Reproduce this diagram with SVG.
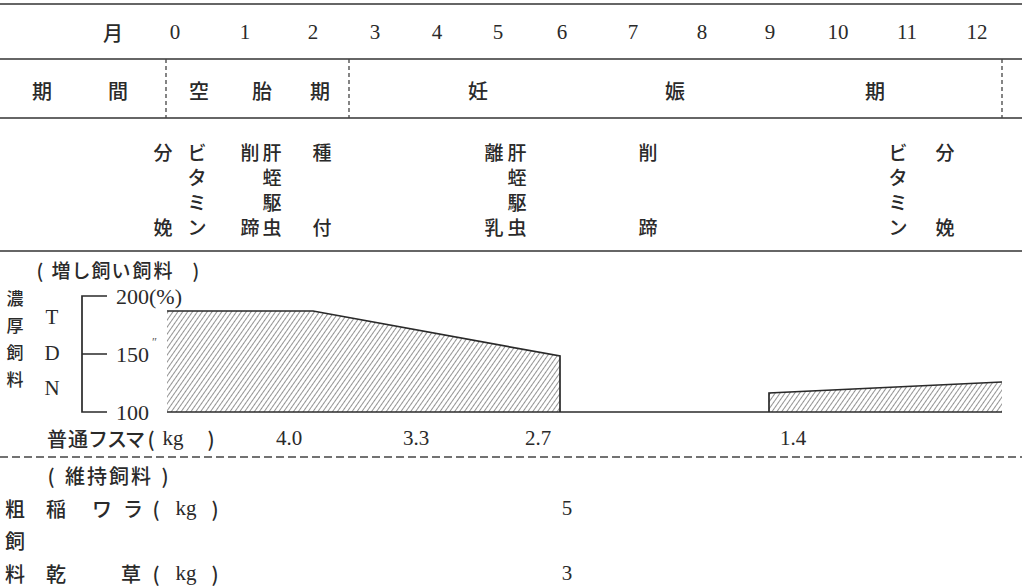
<svg xmlns="http://www.w3.org/2000/svg" width="1022" height="588" viewBox="0 0 1022 588">
<defs>
<style>
.j{font-family:"Noto Sans CJK JP","Noto Sans",sans-serif;font-size:20px;font-weight:500;fill:#2a2a2a;text-anchor:middle;dominant-baseline:central}
.e{font-size:19px}
.v{font-size:17px}
.s{font-family:"Liberation Serif",serif;font-size:21px;fill:#2a2a2a;text-anchor:middle;dominant-baseline:central}
.a{font-family:"Liberation Serif",serif;font-size:22px;fill:#2a2a2a;text-anchor:start;dominant-baseline:central}
.ln{stroke:#333;stroke-width:1.6;fill:none}
.dv{stroke:#444;stroke-width:1.3;stroke-dasharray:4 3;fill:none}
.ol{stroke:#2a2a2a;stroke-width:1.7;fill:none}
</style>
<pattern id="hatch" patternUnits="userSpaceOnUse" width="4" height="5" patternTransform="rotate(35)">
<line x1="0" y1="0" x2="0" y2="5" stroke="#3a3a3a" stroke-width="1.1"/>
</pattern>
</defs>
<rect width="1022" height="588" fill="#fff"/>

<g id="table-lines">
<line class="ln" x1="0" y1="4" x2="1022" y2="4" stroke-width="2"/>
<line class="ln" x1="0" y1="59" x2="1022" y2="59"/>
<line class="ln" x1="0" y1="118" x2="1022" y2="118"/>
<line class="ln" x1="0" y1="251" x2="1022" y2="251" stroke-width="2"/>
<line class="dv" x1="166" y1="59" x2="166" y2="118"/>
<line class="dv" x1="349" y1="59" x2="349" y2="118"/>
<line class="dv" x1="1002" y1="59" x2="1002" y2="118"/>
<line x1="0" y1="457" x2="1022" y2="457" stroke="#444" stroke-width="1.5" stroke-dasharray="8 4"/>
</g>

<g id="months">
<text class="j" x="113" y="32">月</text>
<text class="s" x="175" y="32">0</text>
<text class="s" x="245" y="32">1</text>
<text class="s" x="313" y="32">2</text>
<text class="s" x="375" y="32">3</text>
<text class="s" x="437" y="32">4</text>
<text class="s" x="498" y="32">5</text>
<text class="s" x="562" y="32">6</text>
<text class="s" x="633" y="32">7</text>
<text class="s" x="702" y="32">8</text>
<text class="s" x="770" y="32">9</text>
<text class="s" x="838" y="32">10</text>
<text class="s" x="907" y="32">11</text>
<text class="s" x="977" y="32">12</text>
</g>

<g id="periods">
<text class="j" x="42" y="90">期</text>
<text class="j" x="118" y="90">間</text>
<text class="j" x="199" y="90">空</text>
<text class="j" x="262" y="90">胎</text>
<text class="j" x="320" y="90">期</text>
<text class="j" x="478" y="90">妊</text>
<text class="j" x="675" y="90">娠</text>
<text class="j" x="875" y="90">期</text>
</g>

<g id="events">
<text class="j e" x="163" y="151">分</text>
<text class="j e" x="163" y="226">娩</text>
<text class="j e" x="197" y="151">ビ</text>
<text class="j e" x="197" y="176">タ</text>
<text class="j e" x="197" y="201">ミ</text>
<text class="j e" x="197" y="226">ン</text>
<text class="j e" x="250" y="151">削</text>
<text class="j e" x="250" y="226">蹄</text>
<text class="j e" x="272" y="151">肝</text>
<text class="j e" x="272" y="176">蛭</text>
<text class="j e" x="272" y="201">駆</text>
<text class="j e" x="272" y="226">虫</text>
<text class="j e" x="322" y="151">種</text>
<text class="j e" x="322" y="226">付</text>
<text class="j e" x="494" y="151">離</text>
<text class="j e" x="494" y="226">乳</text>
<text class="j e" x="517" y="151">肝</text>
<text class="j e" x="517" y="176">蛭</text>
<text class="j e" x="517" y="201">駆</text>
<text class="j e" x="517" y="226">虫</text>
<text class="j e" x="648" y="151">削</text>
<text class="j e" x="648" y="226">蹄</text>
<text class="j e" x="898" y="151">ビ</text>
<text class="j e" x="898" y="176">タ</text>
<text class="j e" x="898" y="201">ミ</text>
<text class="j e" x="898" y="226">ン</text>
<text class="j e" x="945" y="151">分</text>
<text class="j e" x="945" y="226">娩</text>
</g>

<g id="concentrate-labels">
<text class="j e" x="40" y="269">(</text>
<text class="j e" x="61" y="269">増</text>
<text class="j e" x="81" y="269">し</text>
<text class="j e" x="101" y="269">飼</text>
<text class="j e" x="121" y="269">い</text>
<text class="j e" x="142" y="269">飼</text>
<text class="j e" x="163" y="269">料</text>
<text class="j e" x="196" y="269">)</text>
<text class="j v" x="15" y="297">濃</text>
<text class="j v" x="15" y="324">厚</text>
<text class="j v" x="15" y="351">飼</text>
<text class="j v" x="15" y="378">料</text>
<text class="s" x="52" y="317">T</text>
<text class="s" x="52" y="353">D</text>
<text class="s" x="52" y="388">N</text>
</g>

<g id="axis">
<path class="ol" d="M107,296 H82 V412 H107 M82,354 H107"/>
<text class="a" x="116" y="296">200(%)</text>
<text class="a" x="116" y="354">150</text>
<text x="152" y="346" font-family="Liberation Serif,serif" font-size="12" fill="#555">″</text>
<text class="a" x="116" y="412">100</text>
</g>

<g id="chart">
<polygon points="167,311 313,311 560,356 560,412 167,412" fill="url(#hatch)"/>
<polygon points="769,412 769,393 1002,382 1002,412" fill="url(#hatch)"/>
<path class="ol" d="M167,311 L313,311 L560,356 L560,412"/>
<path class="ol" d="M769,412 L769,393 L1002,382"/>
<line class="ol" x1="167" y1="412" x2="1002" y2="412"/>
</g>

<g id="bran-row">
<text class="j" x="57" y="438">普</text>
<text class="j" x="78" y="438">通</text>
<text class="j" x="98" y="438">フ</text>
<text class="j" x="117" y="438">ス</text>
<text class="j" x="135" y="438">マ</text>
<text class="j" x="151" y="438">(</text>
<text class="s" x="173" y="438">kg</text>
<text class="j" x="211" y="438">)</text>
<text class="s" x="289" y="438">4.0</text>
<text class="s" x="416" y="438">3.3</text>
<text class="s" x="538" y="438">2.7</text>
<text class="s" x="793" y="438">1.4</text>
</g>

<g id="roughage">
<text class="j" x="51" y="475">(</text>
<text class="j" x="75" y="475">維</text>
<text class="j" x="97" y="475">持</text>
<text class="j" x="119" y="475">飼</text>
<text class="j" x="141" y="475">料</text>
<text class="j" x="165" y="475">)</text>
<text class="j" x="15" y="508">粗</text>
<text class="j" x="15" y="540">飼</text>
<text class="j" x="15" y="573">料</text>
<text class="j" x="56" y="508">稲</text>
<text class="j" x="102" y="508">ワ</text>
<text class="j" x="133" y="508">ラ</text>
<text class="j" x="156" y="508">(</text>
<text class="s" x="186" y="508">kg</text>
<text class="j" x="215" y="508">)</text>
<text class="j" x="56" y="573">乾</text>
<text class="j" x="131" y="573">草</text>
<text class="j" x="156" y="573">(</text>
<text class="s" x="186" y="573">kg</text>
<text class="j" x="215" y="573">)</text>
<text class="s" x="567" y="508">5</text>
<text class="s" x="567" y="573">3</text>
</g>
</svg>
